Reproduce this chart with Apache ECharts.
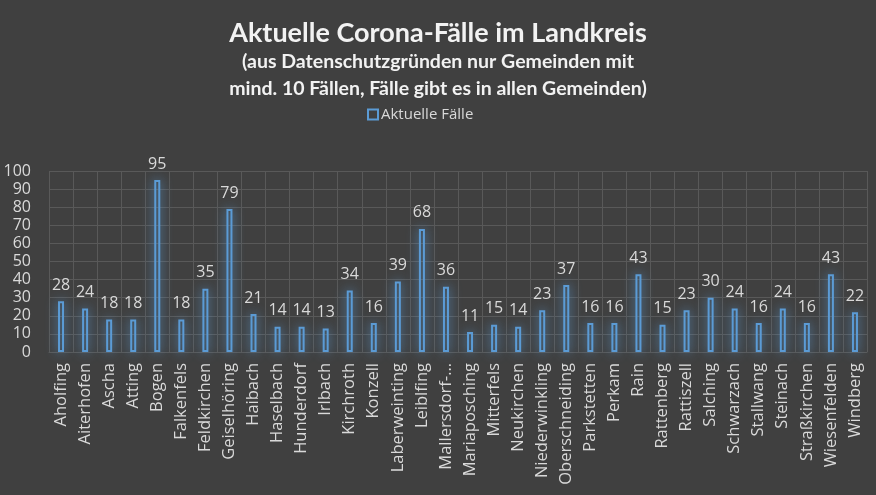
<!DOCTYPE html>
<html><head><meta charset="utf-8">
<script src="https://cdn.jsdelivr.net/npm/echarts@6/dist/echarts.min.js"></script>
<style>html,body{margin:0;padding:0;background:#404040;}#c{width:876px;height:495px;}</style>
</head><body><div id="c"></div>
<script>
const categories = ["Aholfing","Aiterhofen","Ascha","Atting","Bogen","Falkenfels","Feldkirchen","Geiselhöring","Haibach","Haselbach","Hunderdorf","Irlbach","Kirchroth","Konzell","Laberweinting","Leiblfing","Mallersdorf-…","Mariaposching","Mitterfels","Neukirchen","Niederwinkling","Oberschneiding","Parkstetten","Perkam","Rain","Rattenberg","Rattiszell","Salching","Schwarzach","Stallwang","Steinach","Straßkirchen","Wiesenfelden","Windberg"];
const aktuelleFaelle = [28,24,18,18,95,18,35,79,21,14,14,13,34,16,39,68,36,11,15,14,23,37,16,16,43,15,23,30,24,16,24,16,43,22];
const seriesName = "Aktuelle Fälle";
const titleText = "Aktuelle Corona-Fälle im Landkreis";
const subtitleText = "(aus Datenschutzgründen nur Gemeinden mit\nmind. 10 Fällen, Fälle gibt es in allen Gemeinden)";

const chart = echarts.init(document.getElementById('c'));
const TFONT = 'Lato';
const FONT = 'Open Sans';
chart.setOption({
  backgroundColor: '#404040',
  animation: false,
  title: [
    {text: titleText, left: 'center', top: 15,
     textStyle: {fontFamily: TFONT, fontSize: 27, fontWeight: 'bold', color: '#f2f2f2'}},
    {text: subtitleText, left: 'center', top: 43,
     textStyle: {fontFamily: TFONT, fontSize: 19.5, fontWeight: 'bold', color: '#f2f2f2', lineHeight: 27}}
  ],
  legend: {
    top: 102, left: 362, itemWidth: 10, itemHeight: 10, itemGap: 5,
    icon: 'rect',
    textStyle: {fontFamily: FONT, fontSize: 15, color: '#d9d9d9', padding: [0,0,0,-2]},
    data: [{name: seriesName, itemStyle: {color: 'rgba(0,0,0,0)', borderColor: '#5b9bd5', borderWidth: 2}}]
  },
  grid: {left: 49, right: 9, top: 171, bottom: 143, containLabel: false},
  xAxis: {
    type: 'category', data: categories,
    axisLine: {show: true, lineStyle: {color: '#595959', width: 1}},
    axisTick: {show: false},
    splitLine: {show: true, lineStyle: {color: '#595959', width: 1}},
    axisLabel: {rotate: 90, interval: 0, fontFamily: FONT, fontSize: 16.5, color: '#d9d9d9', margin: 11}
  },
  yAxis: {
    type: 'value', min: 0, max: 100, interval: 10,
    axisLine: {show: false}, axisTick: {show: false},
    splitLine: {lineStyle: {color: '#595959', width: 1}},
    axisLabel: {fontFamily: FONT, fontSize: 16, color: '#d9d9d9', margin: 18}
  },
  series: [{
    name: seriesName, type: 'bar', data: aktuelleFaelle, barWidth: 6,
    itemStyle: {color: 'rgba(0,0,0,0)', borderColor: '#5b9bd5', borderWidth: 2,
      shadowBlur: 12, shadowColor: 'rgba(91,155,213,1)'},
    label: {show: true, position: 'top', distance: 8, fontFamily: FONT, fontSize: 16, color: '#d9d9d9'}
  }]
});
</script></body></html>
